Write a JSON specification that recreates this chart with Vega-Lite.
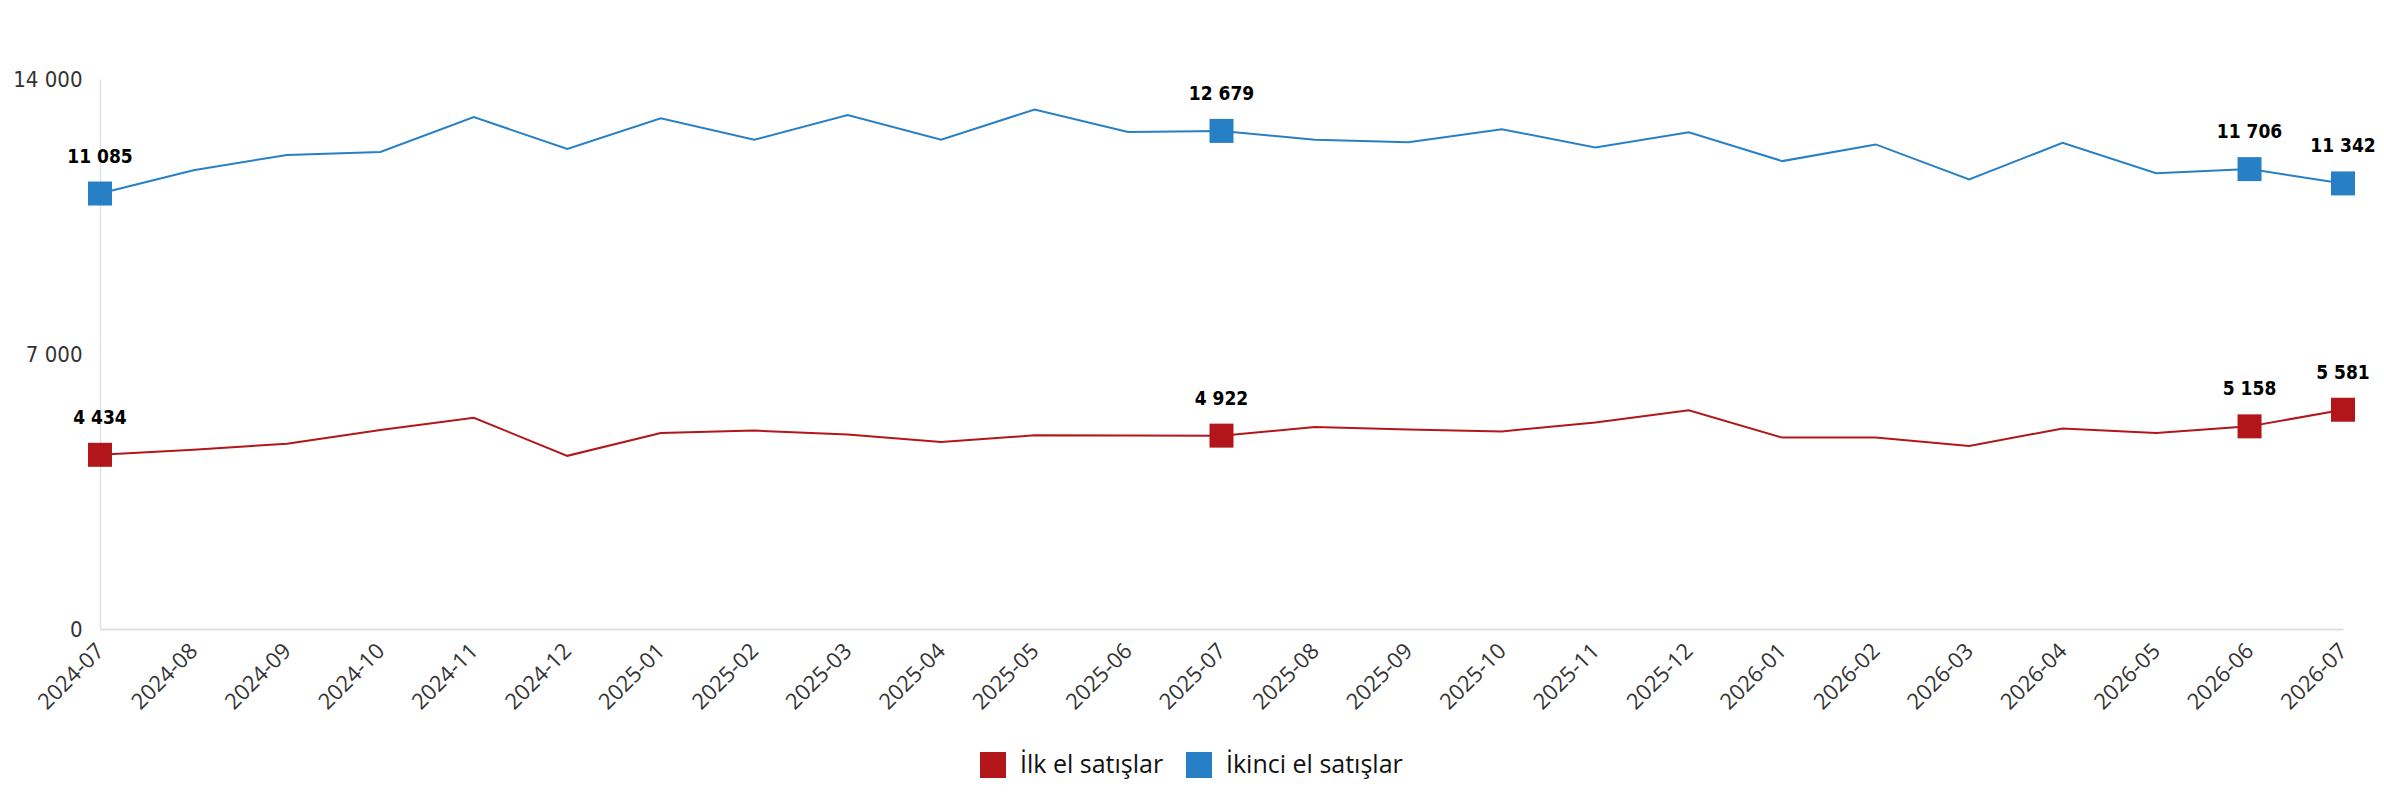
{
  "$schema": "https://vega.github.io/schema/vega-lite/v6.json",
  "width": 2243,
  "height": 550,
  "autosize": {"type": "none"},
  "padding": {"left": 100, "top": 79, "right": 41, "bottom": 171},
  "background": "white",
  "config": {
    "locale": {"number": {"decimal": ",", "thousands": " ", "grouping": [3], "currency": ["", ""]}},
    "view": {"stroke": null},
    "font": "Open Sans"
  },
  "data": {
    "values": [
      {"month": "2024-07", "series": "İlk el satışlar", "value": 4434, "mark": true},
      {"month": "2024-08", "series": "İlk el satışlar", "value": 4563, "mark": false},
      {"month": "2024-09", "series": "İlk el satışlar", "value": 4718, "mark": false},
      {"month": "2024-10", "series": "İlk el satışlar", "value": 5066, "mark": false},
      {"month": "2024-11", "series": "İlk el satışlar", "value": 5375, "mark": false},
      {"month": "2024-12", "series": "İlk el satışlar", "value": 4408, "mark": false},
      {"month": "2025-01", "series": "İlk el satışlar", "value": 4988, "mark": false},
      {"month": "2025-02", "series": "İlk el satışlar", "value": 5050, "mark": false},
      {"month": "2025-03", "series": "İlk el satışlar", "value": 4950, "mark": false},
      {"month": "2025-04", "series": "İlk el satışlar", "value": 4760, "mark": false},
      {"month": "2025-05", "series": "İlk el satışlar", "value": 4930, "mark": false},
      {"month": "2025-06", "series": "İlk el satışlar", "value": 4925, "mark": false},
      {"month": "2025-07", "series": "İlk el satışlar", "value": 4922, "mark": true},
      {"month": "2025-08", "series": "İlk el satışlar", "value": 5143, "mark": false},
      {"month": "2025-09", "series": "İlk el satışlar", "value": 5080, "mark": false},
      {"month": "2025-10", "series": "İlk el satışlar", "value": 5030, "mark": false},
      {"month": "2025-11", "series": "İlk el satışlar", "value": 5259, "mark": false},
      {"month": "2025-12", "series": "İlk el satışlar", "value": 5568, "mark": false},
      {"month": "2026-01", "series": "İlk el satışlar", "value": 4872, "mark": false},
      {"month": "2026-02", "series": "İlk el satışlar", "value": 4872, "mark": false},
      {"month": "2026-03", "series": "İlk el satışlar", "value": 4660, "mark": false},
      {"month": "2026-04", "series": "İlk el satışlar", "value": 5104, "mark": false},
      {"month": "2026-05", "series": "İlk el satışlar", "value": 4988, "mark": false},
      {"month": "2026-06", "series": "İlk el satışlar", "value": 5158, "mark": true},
      {"month": "2026-07", "series": "İlk el satışlar", "value": 5581, "mark": true},
      {"month": "2024-07", "series": "İkinci el satışlar", "value": 11085, "mark": true},
      {"month": "2024-08", "series": "İkinci el satışlar", "value": 11679, "mark": false},
      {"month": "2024-09", "series": "İkinci el satışlar", "value": 12066, "mark": false},
      {"month": "2024-10", "series": "İkinci el satışlar", "value": 12142, "mark": false},
      {"month": "2024-11", "series": "İkinci el satışlar", "value": 13032, "mark": false},
      {"month": "2024-12", "series": "İkinci el satışlar", "value": 12220, "mark": false},
      {"month": "2025-01", "series": "İkinci el satışlar", "value": 13000, "mark": false},
      {"month": "2025-02", "series": "İkinci el satışlar", "value": 12452, "mark": false},
      {"month": "2025-03", "series": "İkinci el satışlar", "value": 13080, "mark": false},
      {"month": "2025-04", "series": "İkinci el satışlar", "value": 12452, "mark": false},
      {"month": "2025-05", "series": "İkinci el satışlar", "value": 13225, "mark": false},
      {"month": "2025-06", "series": "İkinci el satışlar", "value": 12650, "mark": false},
      {"month": "2025-07", "series": "İkinci el satışlar", "value": 12679, "mark": true},
      {"month": "2025-08", "series": "İkinci el satışlar", "value": 12452, "mark": false},
      {"month": "2025-09", "series": "İkinci el satışlar", "value": 12390, "mark": false},
      {"month": "2025-10", "series": "İkinci el satışlar", "value": 12722, "mark": false},
      {"month": "2025-11", "series": "İkinci el satışlar", "value": 12258, "mark": false},
      {"month": "2025-12", "series": "İkinci el satışlar", "value": 12645, "mark": false},
      {"month": "2026-01", "series": "İkinci el satışlar", "value": 11910, "mark": false},
      {"month": "2026-02", "series": "İkinci el satışlar", "value": 12335, "mark": false},
      {"month": "2026-03", "series": "İkinci el satışlar", "value": 11446, "mark": false},
      {"month": "2026-04", "series": "İkinci el satışlar", "value": 12374, "mark": false},
      {"month": "2026-05", "series": "İkinci el satışlar", "value": 11601, "mark": false},
      {"month": "2026-06", "series": "İkinci el satışlar", "value": 11706, "mark": true},
      {"month": "2026-07", "series": "İkinci el satışlar", "value": 11342, "mark": true}
    ]
  },
  "encoding": {
    "x": {
      "field": "month",
      "type": "ordinal",
      "scale": {"type": "point", "padding": 0},
      "axis": {
        "title": null,
        "labelAngle": -45,
        "labelAlign": "right",
        "labelBaseline": "middle",
        "labelFontSize": 22,
        "labelColor": "#333333",
        "labelFont": "Open Sans",
        "labelPadding": 18,
        "ticks": false,
        "domainColor": "#dde1e7",
        "domainWidth": 2
      }
    },
    "y": {
      "field": "value",
      "type": "quantitative",
      "scale": {"domain": [0, 14000], "nice": false},
      "axis": {
        "title": null,
        "values": [0, 7000, 14000],
        "format": ",d",
        "grid": false,
        "ticks": false,
        "labelFontSize": 22,
        "labelColor": "#333333",
        "labelFont": "Liberation Sans Narrow, DejaVu Sans Condensed, Liberation Sans",
        "labelPadding": 18,
        "domainColor": "#dde1e7",
        "domainWidth": 1.5
      }
    },
    "color": {
      "field": "series",
      "type": "nominal",
      "scale": {
        "domain": ["İlk el satışlar", "İkinci el satışlar"],
        "range": ["#b3161a", "#2780c6"]
      },
      "legend": {
        "title": null,
        "orient": "none",
        "direction": "horizontal",
        "legendX": 880,
        "legendY": 673,
        "symbolType": "square",
        "symbolSize": 676,
        "symbolStrokeWidth": 0,
        "labelFontSize": 25,
        "labelFont": "Open Sans",
        "labelColor": "#111111",
        "labelLimit": 400,
        "labelOffset": 14,
        "columnPadding": 22
      }
    }
  },
  "layer": [
    {
      "mark": {"type": "line", "strokeWidth": 2}
    },
    {
      "transform": [{"filter": "datum.mark"}],
      "mark": {"type": "point", "shape": "square", "filled": true, "size": 576, "opacity": 1}
    },
    {
      "transform": [{"filter": "datum.mark"}],
      "mark": {
        "type": "text",
        "dy": -37,
        "fontSize": 19,
        "fontWeight": "bold",
        "font": "Liberation Sans Narrow, DejaVu Sans Condensed, Liberation Sans",
        "color": "#000000"
      },
      "encoding": {
        "text": {"field": "value", "type": "quantitative", "format": ",d"},
        "color": {"value": "#000000"}
      }
    }
  ]
}
